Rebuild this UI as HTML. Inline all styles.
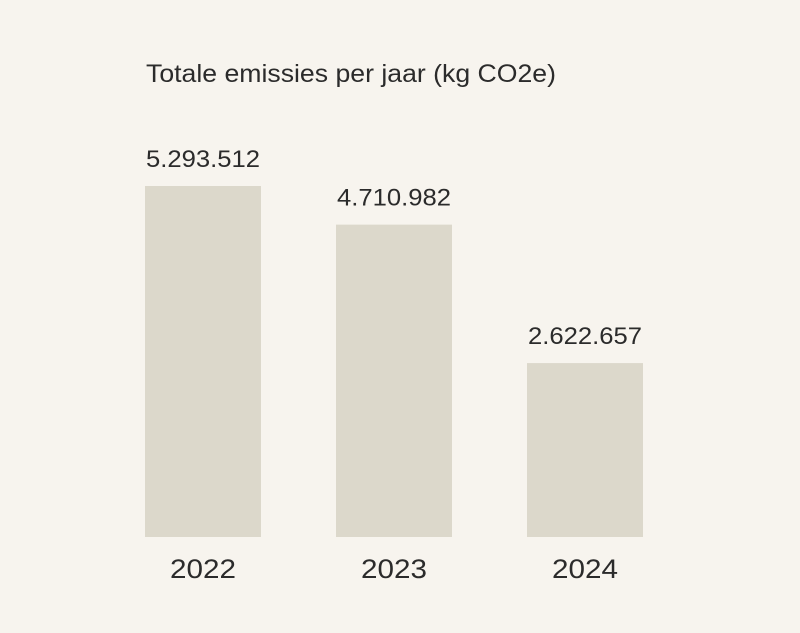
<!DOCTYPE html>
<html><head><meta charset="utf-8"><style>
html,body{margin:0;padding:0;background:#f7f4ee;}
svg{display:block;font-family:"Liberation Sans",sans-serif;}
</style></head><body>
<svg width="800" height="633" viewBox="0 0 800 633">
<rect x="0" y="0" width="800" height="633" fill="#f7f4ee"/>
<text x="146" y="82" font-size="25" fill="#2b2b2b" textLength="410" lengthAdjust="spacingAndGlyphs">Totale emissies per jaar (kg CO2e)</text>
<g id="bars"></g>
</svg>
<script>
const categories = ["2022","2023","2024"];
const values = [5293512, 4710982, 2622657];
const valueLabels = ["5.293.512","4.710.982","2.622.657"];
const NS="http://www.w3.org/2000/svg";
const baseY=537, maxH=351, maxV=5293512;
function yScale(v){return baseY - v/maxV*maxH;}
function xScale(i){return 145 + i*191;}
const bw=116;
const g=document.getElementById('bars');
categories.forEach((c,i)=>{
  const x=xScale(i), y=yScale(values[i]);
  const r=document.createElementNS(NS,'rect');
  r.setAttribute('x',x);r.setAttribute('y',y);r.setAttribute('width',bw);r.setAttribute('height',baseY-y);
  r.setAttribute('fill','#dcd8cb');
  
  
  g.appendChild(r);
  const t=document.createElementNS(NS,'text');
  t.setAttribute('x',x+bw/2);t.setAttribute('y',y-19);t.setAttribute('text-anchor','middle');
  t.setAttribute('font-size','24');t.setAttribute('fill','#2b2b2b');
  t.setAttribute('textLength','114');t.setAttribute('lengthAdjust','spacingAndGlyphs');
  t.textContent=valueLabels[i];
  
  
  g.appendChild(t);
  const l=document.createElementNS(NS,'text');
  l.setAttribute('x',x+bw/2);l.setAttribute('y',578);l.setAttribute('text-anchor','middle');
  l.setAttribute('font-size','27');l.setAttribute('fill','#2b2b2b');
  l.setAttribute('textLength','66');l.setAttribute('lengthAdjust','spacingAndGlyphs');
  l.textContent=c;
  
  
  g.appendChild(l);
});
</script>
</body></html>
